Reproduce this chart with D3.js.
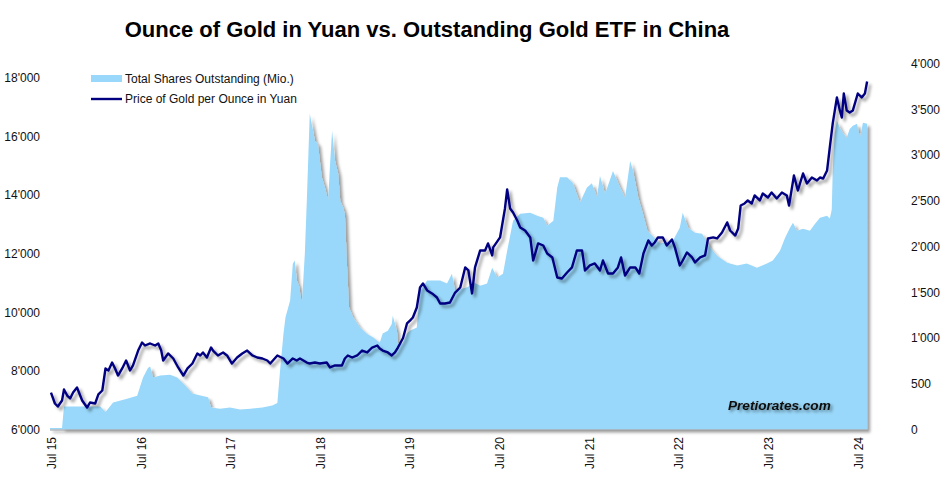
<!DOCTYPE html>
<html><head><meta charset="utf-8">
<script src="https://cdn.jsdelivr.net/npm/d3@7"></script>
<style>
html,body{margin:0;padding:0;background:#fff;}
svg{display:block;font-family:"Liberation Sans",Arial,sans-serif;}
</style></head>
<body>
<svg id="chart" width="945" height="495"></svg>
<script>
const title = "Ounce of Gold in Yuan vs. Outstanding Gold ETF in China";
const legendLabels = ["Total Shares Outstanding (Mio.)", "Price of Gold per Ounce in Yuan"];
const watermark = "Pretiorates.com";
const xTickDates = ["2015-07-01","2016-07-01","2017-07-01","2018-07-01","2019-07-01","2020-07-01","2021-07-01","2022-07-01","2023-07-01","2024-07-01"];
const leftTicks = [6000, 8000, 10000, 12000, 14000, 16000, 18000];
const rightTicks = [0, 500, 1000, 1500, 2000, 2500, 3000, 3500, 4000];

const sharesDates = ["2015-06-27","2015-08-15","2015-08-23","2016-01-18","2016-02-08","2016-03-10","2016-05-06","2016-06-16","2016-07-10","2016-07-30","2016-08-08","2016-08-20","2016-09-18","2016-10-28","2016-11-26","2016-12-29","2017-01-27","2017-02-28","2017-04-01","2017-04-13","2017-05-19","2017-06-29","2017-08-09","2017-09-20","2017-11-08","2017-12-18","2018-01-08","2018-01-20","2018-02-02","2018-02-10","2018-03-01","2018-03-12","2018-03-20","2018-03-28","2018-04-06","2018-04-18","2018-04-30","2018-05-08","2018-05-20","2018-06-10","2018-06-22","2018-07-08","2018-07-21","2018-08-03","2018-08-10","2018-08-19","2018-08-31","2018-09-13","2018-09-21","2018-10-03","2018-10-10","2018-10-19","2018-10-27","2018-11-13","2018-12-11","2019-01-09","2019-02-03","2019-03-01","2019-03-13","2019-04-03","2019-04-19","2019-04-23","2019-05-10","2019-05-14","2019-06-01","2019-06-20","2019-07-02","2019-07-30","2019-08-12","2019-09-10","2019-11-02","2019-11-30","2019-12-20","2020-01-02","2020-02-20","2020-03-23","2020-04-13","2020-05-11","2020-06-01","2020-06-21","2020-07-15","2020-08-01","2020-08-25","2020-09-23","2020-11-03","2020-12-01","2020-12-26","2021-01-11","2021-02-05","2021-02-21","2021-03-04","2021-04-02","2021-04-26","2021-05-24","2021-06-22","2021-07-12","2021-08-02","2021-08-14","2021-09-04","2021-10-06","2021-11-04","2021-11-24","2021-12-15","2021-12-27","2022-01-17","2022-02-07","2022-02-23","2022-04-15","2022-06-07","2022-07-05","2022-07-17","2022-08-08","2022-09-05","2022-10-04","2022-11-06","2022-12-04","2023-01-14","2023-02-24","2023-04-04","2023-05-15","2023-06-25","2023-07-19","2023-08-17","2023-09-07","2023-09-27","2023-10-09","2023-10-25","2023-11-19","2023-12-17","2024-01-07","2024-01-27","2024-02-25","2024-03-07","2024-03-15","2024-03-19","2024-03-27","2024-04-05","2024-04-17","2024-04-29","2024-05-15","2024-05-27","2024-06-09","2024-06-26","2024-07-08","2024-07-20","2024-08-06"];
const sharesValues = [6050,6050,6784,6784,6600,6920,7050,7150,7770,8100,8150,7770,7840,7870,7770,7500,7230,7160,7100,6750,6710,6750,6680,6710,6750,6820,6900,8100,9270,9816,10400,11650,11760,11080,10900,10290,12000,13800,16770,15850,15750,14600,14250,13800,14950,16190,15160,14720,13800,13560,13350,11520,10160,9820,9480,9260,9140,8960,9270,9370,9600,9880,9370,8930,8930,9270,9370,9480,10740,11080,11080,10980,11310,10740,10850,11000,10900,10980,11520,11180,11310,12100,13120,13360,13390,13290,13220,12950,13120,14250,14600,14600,14400,13730,14250,14400,13930,14650,14040,14820,14250,13900,15160,14820,13900,13300,12780,12340,12440,12880,13390,12880,12710,12680,12200,11930,11690,11590,11660,11520,11660,11760,12100,12540,12880,13050,12780,12850,12780,13020,13220,13290,13190,13500,14820,16080,16530,16290,16120,15950,16250,16360,16430,15950,16460,16430];

const priceDates = ["2015-07-01","2015-07-17","2015-07-29","2015-08-15","2015-08-23","2015-09-05","2015-09-17","2015-09-29","2015-10-15","2015-10-23","2015-11-05","2015-11-25","2015-12-07","2015-12-28","2016-01-10","2016-01-26","2016-02-08","2016-02-20","2016-03-06","2016-03-18","2016-03-30","2016-04-16","2016-05-02","2016-05-18","2016-05-30","2016-06-20","2016-07-06","2016-07-18","2016-08-08","2016-08-28","2016-09-10","2016-09-22","2016-09-30","2016-10-20","2016-11-10","2016-11-30","2016-12-21","2017-01-07","2017-01-27","2017-02-16","2017-02-28","2017-03-11","2017-03-27","2017-04-13","2017-04-21","2017-05-11","2017-06-01","2017-06-17","2017-07-07","2017-07-28","2017-08-18","2017-09-07","2017-09-28","2017-10-18","2017-11-08","2017-11-28","2017-12-10","2018-01-08","2018-02-02","2018-02-18","2018-03-12","2018-03-28","2018-04-10","2018-05-08","2018-05-20","2018-06-10","2018-06-30","2018-07-28","2018-08-10","2018-08-31","2018-09-28","2018-10-10","2018-10-22","2018-11-09","2018-11-29","2018-12-19","2019-01-09","2019-01-29","2019-02-19","2019-03-01","2019-03-13","2019-04-03","2019-04-19","2019-05-02","2019-05-14","2019-06-04","2019-06-20","2019-07-02","2019-07-14","2019-07-30","2019-08-12","2019-08-24","2019-09-10","2019-09-30","2019-10-20","2019-11-02","2019-11-22","2019-12-12","2020-01-02","2020-01-23","2020-02-12","2020-02-25","2020-03-11","2020-03-23","2020-04-13","2020-05-03","2020-05-15","2020-06-01","2020-06-05","2020-07-03","2020-07-23","2020-08-01","2020-08-13","2020-08-25","2020-09-11","2020-09-23","2020-10-13","2020-11-03","2020-11-15","2020-12-05","2020-12-26","2021-01-11","2021-02-01","2021-02-21","2021-03-12","2021-04-02","2021-04-22","2021-05-12","2021-06-02","2021-06-14","2021-07-04","2021-07-24","2021-08-14","2021-08-26","2021-09-16","2021-10-06","2021-10-26","2021-11-08","2021-11-24","2021-12-15","2022-01-05","2022-01-21","2022-02-07","2022-02-27","2022-03-13","2022-03-25","2022-04-07","2022-04-27","2022-05-13","2022-06-03","2022-06-15","2022-07-05","2022-07-17","2022-08-03","2022-08-24","2022-09-05","2022-09-26","2022-10-16","2022-10-28","2022-11-18","2022-12-04","2022-12-24","2023-01-14","2023-01-26","2023-02-16","2023-02-28","2023-03-10","2023-03-26","2023-04-08","2023-04-24","2023-05-06","2023-05-27","2023-06-08","2023-06-29","2023-07-14","2023-08-04","2023-08-25","2023-09-14","2023-09-23","2023-10-13","2023-10-29","2023-11-19","2023-12-05","2023-12-25","2024-01-15","2024-01-27","2024-02-09","2024-02-25","2024-03-07","2024-03-19","2024-04-05","2024-04-17","2024-04-25","2024-05-03","2024-05-15","2024-05-27","2024-06-09","2024-06-29","2024-07-15","2024-07-28","2024-08-06"];
const priceValues = [404,284,251,317,437,371,339,404,459,404,317,240,295,284,383,426,667,645,732,667,590,667,754,645,700,863,951,918,940,918,940,863,754,831,776,678,590,667,721,831,809,842,787,896,863,809,842,809,721,787,831,863,809,787,776,754,721,809,776,721,776,754,776,732,721,732,721,732,678,700,700,776,809,787,809,863,842,896,918,885,863,842,809,842,896,1000,1159,1190,1224,1333,1552,1596,1520,1487,1443,1377,1377,1388,1497,1552,1771,1738,1487,1771,1957,1957,2034,1902,1990,2099,2416,2623,2416,2372,2284,2208,2175,2099,1847,2034,2011,1924,1880,1661,1650,1716,1771,1957,1957,1738,1793,1815,1738,1847,1705,1705,1771,1880,1683,1771,1771,1705,1924,2066,2011,2044,2099,2099,2011,2077,1990,1793,1847,1935,1880,1826,1880,1902,2088,2099,2088,2153,2263,2175,2120,2197,2448,2470,2503,2470,2558,2503,2579,2536,2590,2525,2590,2558,2448,2776,2612,2798,2689,2754,2722,2754,2743,2831,3082,3345,3629,3487,3410,3672,3487,3465,3487,3672,3629,3672,3804];

const parse = d3.timeParse("%Y-%m-%d");
const shares = sharesDates.map((d, i) => ({date: parse(d), value: sharesValues[i]}));
const price = priceDates.map((d, i) => ({date: parse(d), value: priceValues[i]}));

const svg = d3.select("#chart");
const x = d3.scaleTime().domain([parse("2015-06-27"), parse("2024-08-08")]).range([50, 867.6]);
const yL = d3.scaleLinear().domain([6000, 18500]).range([429.5, 63]);
const yR = d3.scaleLinear().domain([0, 4000]).range([429.5, 63.5]);
const fmt = v => d3.format(",")(v).replace(/,/g, "'");

const defs = svg.append("defs");
const f = defs.append("filter").attr("id", "shadow").attr("x", "-5%").attr("y", "-5%").attr("width", "115%").attr("height", "115%");
f.append("feDropShadow").attr("dx", 3).attr("dy", 3).attr("stdDeviation", 1.6).attr("flood-color", "#000").attr("flood-opacity", 0.38);
const f2 = defs.append("filter").attr("id", "tshadow").attr("x", "-10%").attr("y", "-30%").attr("width", "130%").attr("height", "180%");
f2.append("feDropShadow").attr("dx", 2).attr("dy", 2).attr("stdDeviation", 1.5).attr("flood-color", "#000").attr("flood-opacity", 0.45);

const areaColor = "#99D8FA";
const lineColor = "#000080";

// area
svg.append("path").datum(shares)
  .attr("fill", areaColor).attr("filter", "url(#shadow)")
  .attr("d", d3.area().x(d => x(d.date)).y0(yL(6000)).y1(d => yL(d.value)));

// bottom axis line
svg.append("line").attr("x1", 50).attr("x2", 868).attr("y1", 430).attr("y2", 430)
  .attr("stroke", "#A0A0A0").attr("stroke-width", 1);

// line
svg.append("path").datum(price)
  .attr("fill", "none").attr("stroke", lineColor).attr("stroke-width", 2.4)
  .attr("stroke-linejoin", "round").attr("filter", "url(#shadow)")
  .attr("d", d3.line().x(d => x(d.date)).y(d => yR(d.value)));

// left axis
const gL = svg.append("g").attr("transform", "translate(40,0)")
  .call(d3.axisLeft(yL).tickValues(leftTicks).tickFormat(fmt).tickSize(0).tickPadding(0));
gL.select(".domain").remove();
gL.selectAll("text").attr("font-size", 12).attr("fill", "#111").attr("font-family", "Liberation Sans, Arial, sans-serif");

// right axis
const gR = svg.append("g").attr("transform", "translate(911,0)")
  .call(d3.axisRight(yR).tickValues(rightTicks).tickFormat(fmt).tickSize(0).tickPadding(0));
gR.select(".domain").remove();
gR.selectAll("text").attr("font-size", 12).attr("fill", "#111").attr("font-family", "Liberation Sans, Arial, sans-serif");

// x axis
const gX = svg.append("g").attr("transform", "translate(0,437)")
  .call(d3.axisBottom(x).tickValues(xTickDates.map(parse)).tickFormat(d3.timeFormat("%b %y")).tickSize(0).tickPadding(0));
gX.select(".domain").remove();
gX.selectAll("text").attr("font-size", 12).attr("fill", "#111").attr("font-family", "Liberation Sans, Arial, sans-serif")
  .attr("transform", "rotate(-90)").attr("text-anchor", "end").attr("x", 0).attr("y", 0).attr("dy", "0.35em");

// title
svg.append("text").attr("x", 427).attr("y", 37).attr("text-anchor", "middle")
  .attr("font-size", 22).attr("font-weight", "bold").attr("fill", "#000").text(title);

// legend
svg.append("rect").attr("x", 91).attr("y", 75).attr("width", 31).attr("height", 7).attr("fill", areaColor);
svg.append("text").attr("x", 125).attr("y", 78.5).attr("dy", "0.35em").attr("font-size", 12).attr("fill", "#111").text(legendLabels[0]);
svg.append("line").attr("x1", 91).attr("x2", 122).attr("y1", 99).attr("y2", 99).attr("stroke", lineColor).attr("stroke-width", 2.4);
svg.append("text").attr("x", 125).attr("y", 99).attr("dy", "0.35em").attr("font-size", 12).attr("fill", "#111").text(legendLabels[1]);

// watermark
svg.append("text").attr("x", 728).attr("y", 410).attr("font-size", 13.6).attr("font-weight", "bold")
  .attr("font-style", "italic").attr("fill", "#111").attr("filter", "url(#tshadow)").text(watermark);
</script>
</body></html>
